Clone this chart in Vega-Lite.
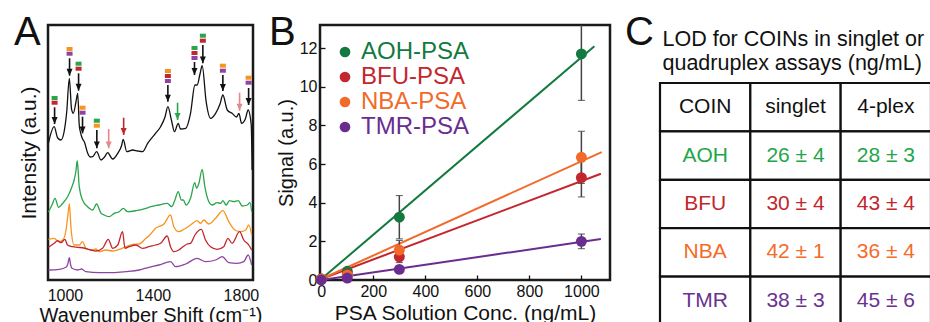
{
"$schema": "https://vega.github.io/schema/vega-lite/v6.json",
"background": "white",
"padding": {"left": 12, "top": 11, "right": 0, "bottom": 0},
"bounds": "flush",
"spacing": 67,
"resolve": {"scale": {"color": "independent"}},
"datasets": {
"spectra": [
{"s":"mix","wn":925,"I":136},{"s":"mix","wn":951,"I":152.3},{"s":"mix","wn":967,"I":141},{"s":"mix","wn":982,"I":139},{"s":"mix","wn":996,"I":147},{"s":"mix","wn":1008,"I":167},{"s":"mix","wn":1020,"I":200.7},{"s":"mix","wn":1030,"I":170},{"s":"mix","wn":1038,"I":165.7},{"s":"mix","wn":1050,"I":177},{"s":"mix","wn":1058,"I":185.7},{"s":"mix","wn":1065,"I":154},{"s":"mix","wn":1070,"I":147.3},{"s":"mix","wn":1080,"I":140},{"s":"mix","wn":1088,"I":137.3},{"s":"mix","wn":1103,"I":126},{"s":"mix","wn":1115,"I":122},{"s":"mix","wn":1126,"I":122.3},{"s":"mix","wn":1144,"I":127.3},{"s":"mix","wn":1164,"I":119},{"s":"mix","wn":1180,"I":122},{"s":"mix","wn":1194,"I":126.3},{"s":"mix","wn":1217,"I":120},{"s":"mix","wn":1240,"I":125.7},{"s":"mix","wn":1257,"I":133},{"s":"mix","wn":1265,"I":139.7},{"s":"mix","wn":1281,"I":127.3},{"s":"mix","wn":1308,"I":129},{"s":"mix","wn":1330,"I":128},{"s":"mix","wn":1353,"I":127.3},{"s":"mix","wn":1376,"I":135.7},{"s":"mix","wn":1412,"I":145.7},{"s":"mix","wn":1435,"I":152.3},{"s":"mix","wn":1455,"I":162},{"s":"mix","wn":1468,"I":172.3},{"s":"mix","wn":1485,"I":158},{"s":"mix","wn":1498,"I":147.3},{"s":"mix","wn":1515,"I":155.7},{"s":"mix","wn":1525,"I":150},{"s":"mix","wn":1549,"I":150.7},{"s":"mix","wn":1571,"I":165.7},{"s":"mix","wn":1591,"I":194},{"s":"mix","wn":1601,"I":194},{"s":"mix","wn":1614,"I":205},{"s":"mix","wn":1624,"I":213.3},{"s":"mix","wn":1642,"I":177.3},{"s":"mix","wn":1662,"I":160.7},{"s":"mix","wn":1685,"I":165.7},{"s":"mix","wn":1705,"I":175},{"s":"mix","wn":1718,"I":184},{"s":"mix","wn":1738,"I":169},{"s":"mix","wn":1760,"I":165.7},{"s":"mix","wn":1780,"I":162},{"s":"mix","wn":1791,"I":165.7},{"s":"mix","wn":1803,"I":155.7},{"s":"mix","wn":1820,"I":160},{"s":"mix","wn":1833,"I":169},{"s":"mix","wn":1847,"I":154},{"s":"mix","wn":1851,"I":109},
{"s":"AOH","wn":925,"I":67},{"s":"AOH","wn":941,"I":74},{"s":"AOH","wn":955,"I":80.7},{"s":"AOH","wn":971,"I":71.7},{"s":"AOH","wn":990,"I":75.7},{"s":"AOH","wn":1012,"I":82.3},{"s":"AOH","wn":1032,"I":92.3},{"s":"AOH","wn":1042,"I":99},{"s":"AOH","wn":1050,"I":108},{"s":"AOH","wn":1056,"I":118.3},{"s":"AOH","wn":1061,"I":105},{"s":"AOH","wn":1065,"I":92.3},{"s":"AOH","wn":1080,"I":79},{"s":"AOH","wn":1103,"I":72.3},{"s":"AOH","wn":1126,"I":69},{"s":"AOH","wn":1144,"I":75},{"s":"AOH","wn":1164,"I":65.7},{"s":"AOH","wn":1179,"I":64},{"s":"AOH","wn":1201,"I":62.3},{"s":"AOH","wn":1224,"I":65.7},{"s":"AOH","wn":1247,"I":67.3},{"s":"AOH","wn":1265,"I":70.7},{"s":"AOH","wn":1285,"I":67.3},{"s":"AOH","wn":1323,"I":68.3},{"s":"AOH","wn":1368,"I":70.7},{"s":"AOH","wn":1391,"I":72.3},{"s":"AOH","wn":1427,"I":74},{"s":"AOH","wn":1465,"I":75.7},{"s":"AOH","wn":1485,"I":72.3},{"s":"AOH","wn":1500,"I":79},{"s":"AOH","wn":1515,"I":87.3},{"s":"AOH","wn":1529,"I":79},{"s":"AOH","wn":1538,"I":79},{"s":"AOH","wn":1551,"I":74},{"s":"AOH","wn":1571,"I":80.7},{"s":"AOH","wn":1590,"I":96.3},{"s":"AOH","wn":1599,"I":90.7},{"s":"AOH","wn":1609,"I":95.7},{"s":"AOH","wn":1624,"I":109.7},{"s":"AOH","wn":1636,"I":92.3},{"s":"AOH","wn":1651,"I":79},{"s":"AOH","wn":1669,"I":74},{"s":"AOH","wn":1692,"I":76.3},{"s":"AOH","wn":1708,"I":75.7},{"s":"AOH","wn":1718,"I":78.3},{"s":"AOH","wn":1733,"I":74},{"s":"AOH","wn":1748,"I":78.3},{"s":"AOH","wn":1768,"I":77.3},{"s":"AOH","wn":1788,"I":78.3},{"s":"AOH","wn":1806,"I":73},{"s":"AOH","wn":1829,"I":74},{"s":"AOH","wn":1841,"I":76.3},{"s":"AOH","wn":1849,"I":67.3},
{"s":"NBA","wn":925,"I":39.7},{"s":"NBA","wn":951,"I":40.7},{"s":"NBA","wn":971,"I":37.3},{"s":"NBA","wn":990,"I":39},{"s":"NBA","wn":1005,"I":49},{"s":"NBA","wn":1014,"I":65},{"s":"NBA","wn":1020,"I":75},{"s":"NBA","wn":1025,"I":60},{"s":"NBA","wn":1029,"I":47.3},{"s":"NBA","wn":1042,"I":34},{"s":"NBA","wn":1065,"I":34},{"s":"NBA","wn":1080,"I":37.3},{"s":"NBA","wn":1095,"I":30.7},{"s":"NBA","wn":1118,"I":29},{"s":"NBA","wn":1141,"I":30},{"s":"NBA","wn":1156,"I":27.3},{"s":"NBA","wn":1186,"I":29},{"s":"NBA","wn":1217,"I":28},{"s":"NBA","wn":1247,"I":29.7},{"s":"NBA","wn":1277,"I":32.3},{"s":"NBA","wn":1308,"I":34.7},{"s":"NBA","wn":1338,"I":35},{"s":"NBA","wn":1368,"I":40.7},{"s":"NBA","wn":1382,"I":43},{"s":"NBA","wn":1412,"I":50.7},{"s":"NBA","wn":1450,"I":55},{"s":"NBA","wn":1480,"I":64},{"s":"NBA","wn":1495,"I":52.3},{"s":"NBA","wn":1518,"I":47.3},{"s":"NBA","wn":1541,"I":49.7},{"s":"NBA","wn":1571,"I":54},{"s":"NBA","wn":1601,"I":58.3},{"s":"NBA","wn":1617,"I":55.7},{"s":"NBA","wn":1632,"I":59},{"s":"NBA","wn":1654,"I":55},{"s":"NBA","wn":1685,"I":60.7},{"s":"NBA","wn":1718,"I":68.3},{"s":"NBA","wn":1745,"I":57.3},{"s":"NBA","wn":1773,"I":49},{"s":"NBA","wn":1799,"I":47.3},{"s":"NBA","wn":1822,"I":49},{"s":"NBA","wn":1836,"I":54},{"s":"NBA","wn":1849,"I":44},
{"s":"BFU","wn":925,"I":31.7},{"s":"BFU","wn":951,"I":35.7},{"s":"BFU","wn":967,"I":38.3},{"s":"BFU","wn":982,"I":36.3},{"s":"BFU","wn":1000,"I":39.7},{"s":"BFU","wn":1012,"I":34},{"s":"BFU","wn":1035,"I":32.3},{"s":"BFU","wn":1058,"I":31.7},{"s":"BFU","wn":1086,"I":31},{"s":"BFU","wn":1118,"I":29},{"s":"BFU","wn":1141,"I":28},{"s":"BFU","wn":1171,"I":30.7},{"s":"BFU","wn":1197,"I":39.7},{"s":"BFU","wn":1217,"I":30.7},{"s":"BFU","wn":1240,"I":34},{"s":"BFU","wn":1262,"I":47.3},{"s":"BFU","wn":1273,"I":30.7},{"s":"BFU","wn":1292,"I":32.3},{"s":"BFU","wn":1323,"I":34},{"s":"BFU","wn":1353,"I":30.7},{"s":"BFU","wn":1382,"I":32.3},{"s":"BFU","wn":1412,"I":34},{"s":"BFU","wn":1435,"I":35.7},{"s":"BFU","wn":1465,"I":43},{"s":"BFU","wn":1480,"I":32.3},{"s":"BFU","wn":1495,"I":27.3},{"s":"BFU","wn":1518,"I":29},{"s":"BFU","wn":1541,"I":33},{"s":"BFU","wn":1556,"I":35},{"s":"BFU","wn":1571,"I":35.7},{"s":"BFU","wn":1591,"I":44},{"s":"BFU","wn":1620,"I":49.7},{"s":"BFU","wn":1639,"I":39},{"s":"BFU","wn":1662,"I":32.3},{"s":"BFU","wn":1692,"I":29.7},{"s":"BFU","wn":1722,"I":32.3},{"s":"BFU","wn":1741,"I":40.7},{"s":"BFU","wn":1760,"I":35.7},{"s":"BFU","wn":1794,"I":47.3},{"s":"BFU","wn":1813,"I":39},{"s":"BFU","wn":1836,"I":34},{"s":"BFU","wn":1849,"I":29},
{"s":"TMR","wn":925,"I":9},{"s":"TMR","wn":974,"I":9.7},{"s":"TMR","wn":1005,"I":11.7},{"s":"TMR","wn":1013,"I":15},{"s":"TMR","wn":1020,"I":21.3},{"s":"TMR","wn":1026,"I":14},{"s":"TMR","wn":1032,"I":10.7},{"s":"TMR","wn":1058,"I":9},{"s":"TMR","wn":1076,"I":10},{"s":"TMR","wn":1095,"I":7.3},{"s":"TMR","wn":1156,"I":6.3},{"s":"TMR","wn":1217,"I":6.3},{"s":"TMR","wn":1277,"I":7.3},{"s":"TMR","wn":1338,"I":9},{"s":"TMR","wn":1382,"I":11.7},{"s":"TMR","wn":1427,"I":14},{"s":"TMR","wn":1480,"I":17.3},{"s":"TMR","wn":1503,"I":12.3},{"s":"TMR","wn":1549,"I":15},{"s":"TMR","wn":1601,"I":20.7},{"s":"TMR","wn":1639,"I":17.3},{"s":"TMR","wn":1685,"I":19},{"s":"TMR","wn":1715,"I":22.3},{"s":"TMR","wn":1745,"I":16.3},{"s":"TMR","wn":1783,"I":15.7},{"s":"TMR","wn":1813,"I":17.3},{"s":"TMR","wn":1833,"I":24},{"s":"TMR","wn":1849,"I":14}
],
"arrows": [
{"wn":953,"top":171.7,"tip":155,"c":"mix"},
{"wn":1021,"top":220.7,"tip":203.3,"c":"mix"},
{"wn":1062,"top":205.7,"tip":188.3,"c":"mix"},
{"wn":1080,"top":162.3,"tip":145.7,"c":"mix"},
{"wn":1145,"top":149,"tip":130.7,"c":"mix"},
{"wn":1199,"top":150,"tip":130.7,"c":"weak"},
{"wn":1267,"top":161.3,"tip":144,"c":"BFU"},
{"wn":1468,"top":194,"tip":177.3,"c":"mix"},
{"wn":1512,"top":176.3,"tip":159,"c":"AOH"},
{"wn":1589,"top":217,"tip":204,"c":"mix"},
{"wn":1627,"top":234,"tip":215.7,"c":"mix"},
{"wn":1718,"top":204,"tip":188,"c":"mix"},
{"wn":1794,"top":186.3,"tip":168.3,"c":"weak"},
{"wn":1835,"top":191,"tip":174,"c":"mix"}
],
"tags": [
{"wn":953,"I":181,"c":"AOH"},{"wn":953,"I":176.3,"c":"BFU"},
{"wn":1021,"I":230,"c":"NBA"},{"wn":1021,"I":225.3,"c":"TMR"},
{"wn":1062,"I":215.3,"c":"AOH"},{"wn":1062,"I":210.3,"c":"BFU"},
{"wn":1080,"I":171.3,"c":"NBA"},{"wn":1080,"I":166.3,"c":"TMR"},
{"wn":1145,"I":158.3,"c":"AOH"},{"wn":1145,"I":153.3,"c":"NBA"},
{"wn":1468,"I":208,"c":"NBA"},{"wn":1468,"I":203,"c":"BFU"},{"wn":1468,"I":198,"c":"TMR"},
{"wn":1589,"I":231,"c":"AOH"},{"wn":1589,"I":226,"c":"BFU"},{"wn":1589,"I":221,"c":"TMR"},
{"wn":1627,"I":243.3,"c":"AOH"},{"wn":1627,"I":238.3,"c":"BFU"},
{"wn":1718,"I":213.3,"c":"NBA"},{"wn":1718,"I":208.3,"c":"TMR"},
{"wn":1835,"I":201.3,"c":"NBA"},{"wn":1835,"I":196.3,"c":"TMR"}
],
"psa": [
{"s":"AOH-PSA","conc":0,"sig":0.05,"err":0},{"s":"AOH-PSA","conc":100,"sig":0.45,"err":0},{"s":"AOH-PSA","conc":300,"sig":3.25,"err":1.12},{"s":"AOH-PSA","conc":1000,"sig":11.7,"err":2.4},
{"s":"BFU-PSA","conc":0,"sig":0.05,"err":0},{"s":"BFU-PSA","conc":100,"sig":0.3,"err":0},{"s":"BFU-PSA","conc":300,"sig":1.2,"err":0.3},{"s":"BFU-PSA","conc":1000,"sig":5.3,"err":1.0},
{"s":"NBA-PSA","conc":0,"sig":0.05,"err":0},{"s":"NBA-PSA","conc":100,"sig":0.25,"err":0},{"s":"NBA-PSA","conc":300,"sig":1.55,"err":0.5},{"s":"NBA-PSA","conc":1000,"sig":6.35,"err":1.35},
{"s":"TMR-PSA","conc":0,"sig":0,"err":0},{"s":"TMR-PSA","conc":100,"sig":0.1,"err":0},{"s":"TMR-PSA","conc":300,"sig":0.55,"err":0.1},{"s":"TMR-PSA","conc":1000,"sig":2.0,"err":0.38}
],
"fits": [
{"s":"AOH-PSA","conc":0,"sig":0.05},{"s":"AOH-PSA","conc":1050,"sig":12.1},
{"s":"BFU-PSA","conc":0,"sig":0.05},{"s":"BFU-PSA","conc":1075,"sig":5.5},
{"s":"NBA-PSA","conc":0,"sig":0.05},{"s":"NBA-PSA","conc":1078,"sig":6.62},
{"s":"TMR-PSA","conc":0,"sig":0},{"s":"TMR-PSA","conc":1075,"sig":2.12}
],
"lod": [
{"col":"COIN","row":"head","t":"COIN","k":"head"},
{"col":"singlet","row":"head","t":"singlet","k":"head"},
{"col":"4-plex","row":"head","t":"4-plex","k":"head"},
{"col":"COIN","row":"AOH","t":"AOH","k":"AOH"},
{"col":"singlet","row":"AOH","t":"26 ± 4","k":"AOH"},
{"col":"4-plex","row":"AOH","t":"28 ± 3","k":"AOH"},
{"col":"COIN","row":"BFU","t":"BFU","k":"BFU"},
{"col":"singlet","row":"BFU","t":"30 ± 4","k":"BFU"},
{"col":"4-plex","row":"BFU","t":"43 ± 4","k":"BFU"},
{"col":"COIN","row":"NBA","t":"NBA","k":"NBA"},
{"col":"singlet","row":"NBA","t":"42 ± 1","k":"NBA"},
{"col":"4-plex","row":"NBA","t":"36 ± 4","k":"NBA"},
{"col":"COIN","row":"TMR","t":"TMR","k":"TMR"},
{"col":"singlet","row":"TMR","t":"38 ± 3","k":"TMR"},
{"col":"4-plex","row":"TMR","t":"45 ± 6","k":"TMR"}
]
},
"hconcat": [
{
"width": 205, "height": 255,
"title": {"text": "A", "anchor": "start", "frame": "group", "fontSize": 40, "fontWeight": "normal", "baseline": "alphabetic", "dx": -34, "dy": 60, "offset": 0, "color": "#111"},
"layer": [
{"data": {"name": "spectra"}, "mark": {"type": "line", "strokeWidth": 1.3, "interpolate": "monotone"},
 "encoding": {
  "x": {"field": "wn", "type": "quantitative", "title": "Wavenumber Shift (cm⁻¹)", "scale": {"domain": [923, 1855], "nice": false, "zero": false}, "axis": {"values": [1000, 1400, 1800], "format": "d", "ticks": false, "labelFontSize": 16, "labelPadding": 7, "titleFontSize": 20, "titlePadding": 2}},
  "y": {"field": "I", "type": "quantitative", "title": "Intensity (a.u.)", "scale": {"domain": [-1, 254], "nice": false, "zero": false}, "axis": {"labels": false, "ticks": false, "titleFontSize": 21, "titlePadding": 9}},
  "color": {"field": "s", "type": "nominal", "scale": {"domain": ["mix", "AOH", "BFU", "NBA", "TMR", "weak"], "range": ["#111111", "#2aa54b", "#c1272d", "#f7941d", "#8e44a0", "#e8868f"]}, "legend": null}
 }},
{"data": {"name": "arrows"}, "mark": {"type": "rule", "strokeWidth": 1.6},
 "encoding": {
  "x": {"field": "wn", "type": "quantitative", "title": "Wavenumber Shift (cm⁻¹)"},
  "y": {"field": "top", "type": "quantitative", "title": "Intensity (a.u.)"},
  "y2": {"field": "tip"},
  "color": {"field": "c", "type": "nominal", "legend": null}
 }},
{"data": {"name": "arrows"}, "mark": {"type": "point", "filled": true, "opacity": 1, "strokeWidth": 0, "shape": "M-1,-2.3L1,-2.3L0,0Z", "size": 36},
 "encoding": {
  "x": {"field": "wn", "type": "quantitative", "title": "Wavenumber Shift (cm⁻¹)"},
  "y": {"field": "tip", "type": "quantitative", "title": "Intensity (a.u.)"},
  "color": {"field": "c", "type": "nominal", "legend": null}
 }},
{"data": {"name": "tags"}, "mark": {"type": "point", "filled": true, "opacity": 1, "strokeWidth": 0, "shape": "M-1,-0.67L1,-0.67L1,0.67L-1,0.67Z", "size": 36},
 "encoding": {
  "x": {"field": "wn", "type": "quantitative", "title": "Wavenumber Shift (cm⁻¹)"},
  "y": {"field": "I", "type": "quantitative", "title": "Intensity (a.u.)"},
  "color": {"field": "c", "type": "nominal", "legend": null}
 }}
]
},
{
"width": 290, "height": 255,
"title": {"text": "B", "anchor": "start", "frame": "group", "fontSize": 40, "fontWeight": "normal", "baseline": "alphabetic", "dx": -51, "dy": 60, "offset": 0, "color": "#111"},
"data": {"name": "psa"},
"resolve": {"legend": {"color": "independent"}},
"encoding": {
 "x": {"field": "conc", "type": "quantitative", "title": "PSA Solution Conc. (ng/mL)", "scale": {"domain": [-5, 1110], "nice": false, "zero": false}, "axis": {"values": [0, 200, 400, 600, 800, 1000], "format": "d", "tickSize": -5, "tickWidth": 1.3, "labelFontSize": 16, "labelPadding": 8, "titleFontSize": 21, "titlePadding": 3}},
 "y": {"field": "sig", "type": "quantitative", "title": "Signal (a.u.)", "scale": {"domain": [0, 13.2], "nice": false, "zero": false}, "axis": {"values": [0, 2, 4, 6, 8, 10, 12], "tickSize": -5, "tickWidth": 1.3, "labelFontSize": 16, "labelPadding": 8, "titleFontSize": 20, "titlePadding": 3}}
},
"layer": [
{"data": {"name": "fits"}, "mark": {"type": "line", "strokeWidth": 2},
 "encoding": {"color": {"field": "s", "type": "nominal", "scale": {"domain": ["AOH-PSA", "BFU-PSA", "NBA-PSA", "TMR-PSA"], "range": ["#127a3e", "#c4262e", "#f26a2a", "#6a2d8f"]}, "legend": null}}},
{"transform": [{"filter": "datum.err > 0"}], "mark": {"type": "errorbar", "ticks": {"color": "#111", "size": 7, "clip": true}, "rule": {"color": "#444", "strokeWidth": 1.5, "clip": true}},
 "encoding": {"yError": {"field": "err"}}},
{"mark": {"type": "circle", "size": 120, "opacity": 1},
 "encoding": {"color": {"field": "s", "type": "nominal", "legend": {"orient": "none", "legendX": 13, "legendY": 15, "title": null, "symbolType": "circle", "symbolSize": 115, "symbolOpacity": 1, "symbolStrokeWidth": 0, "labelFontSize": 24, "labelOffset": 4, "rowPadding": 1, "padding": 0,
   "encode": {"labels": {"update": {"fill": {"signal": "datum.value === 'AOH-PSA' ? '#127a3e' : datum.value === 'BFU-PSA' ? '#c4262e' : datum.value === 'NBA-PSA' ? '#f26a2a' : '#6a2d8f'"}}}}}}}}
]
},
{
"width": 255, "height": 300,
"view": {"stroke": null},
"title": {"text": "C", "anchor": "start", "frame": "group", "fontSize": 40, "fontWeight": "normal", "baseline": "alphabetic", "dx": -52, "dy": 60, "offset": 0, "color": "#111"},
"data": {"name": "lod"},
"encoding": {
 "x": {"field": "col", "type": "nominal", "scale": {"domain": ["COIN", "singlet", "4-plex"], "range": [-17, 254], "paddingInner": 0, "paddingOuter": 0},
   "axis": {"orient": "top", "labels": false, "ticks": false, "domain": false, "title": ["LOD for COINs in singlet or", "quadruplex assays (ng/mL)"], "titleX": -15, "titleY": 20, "titleAnchor": "start", "titleAlign": "left", "titleBaseline": "alphabetic", "titleFontSize": 21.5, "titleLineHeight": 24, "titleAngle": 0}},
 "y": {"field": "row", "type": "nominal", "scale": {"domain": ["head", "AOH", "BFU", "NBA", "TMR"], "range": [58, 300], "paddingInner": 0, "paddingOuter": 0}, "axis": null}
},
"layer": [
{"mark": {"type": "rect", "fill": "white", "stroke": "#111", "strokeWidth": 2.2}},
{"mark": {"type": "text", "fontSize": 21},
 "encoding": {"text": {"field": "t"}, "color": {"field": "k", "type": "nominal", "scale": {"domain": ["head", "AOH", "BFU", "NBA", "TMR"], "range": ["#111111", "#22a64a", "#c1272d", "#f36c2a", "#6b3191"]}, "legend": null}}}
]
}
],
"config": {
 "font": "Liberation Sans",
 "view": {"stroke": "#1a1a1a", "strokeWidth": 2.5},
 "axis": {"grid": false, "domain": false, "labelColor": "#111", "titleColor": "#111", "titleFontWeight": "normal", "tickColor": "#111", "labelFont": "Liberation Sans", "titleFont": "Liberation Sans"},
 "title": {"font": "Liberation Sans", "fontWeight": "normal", "color": "#111"},
 "legend": {"labelFont": "Liberation Sans"}
}
}
